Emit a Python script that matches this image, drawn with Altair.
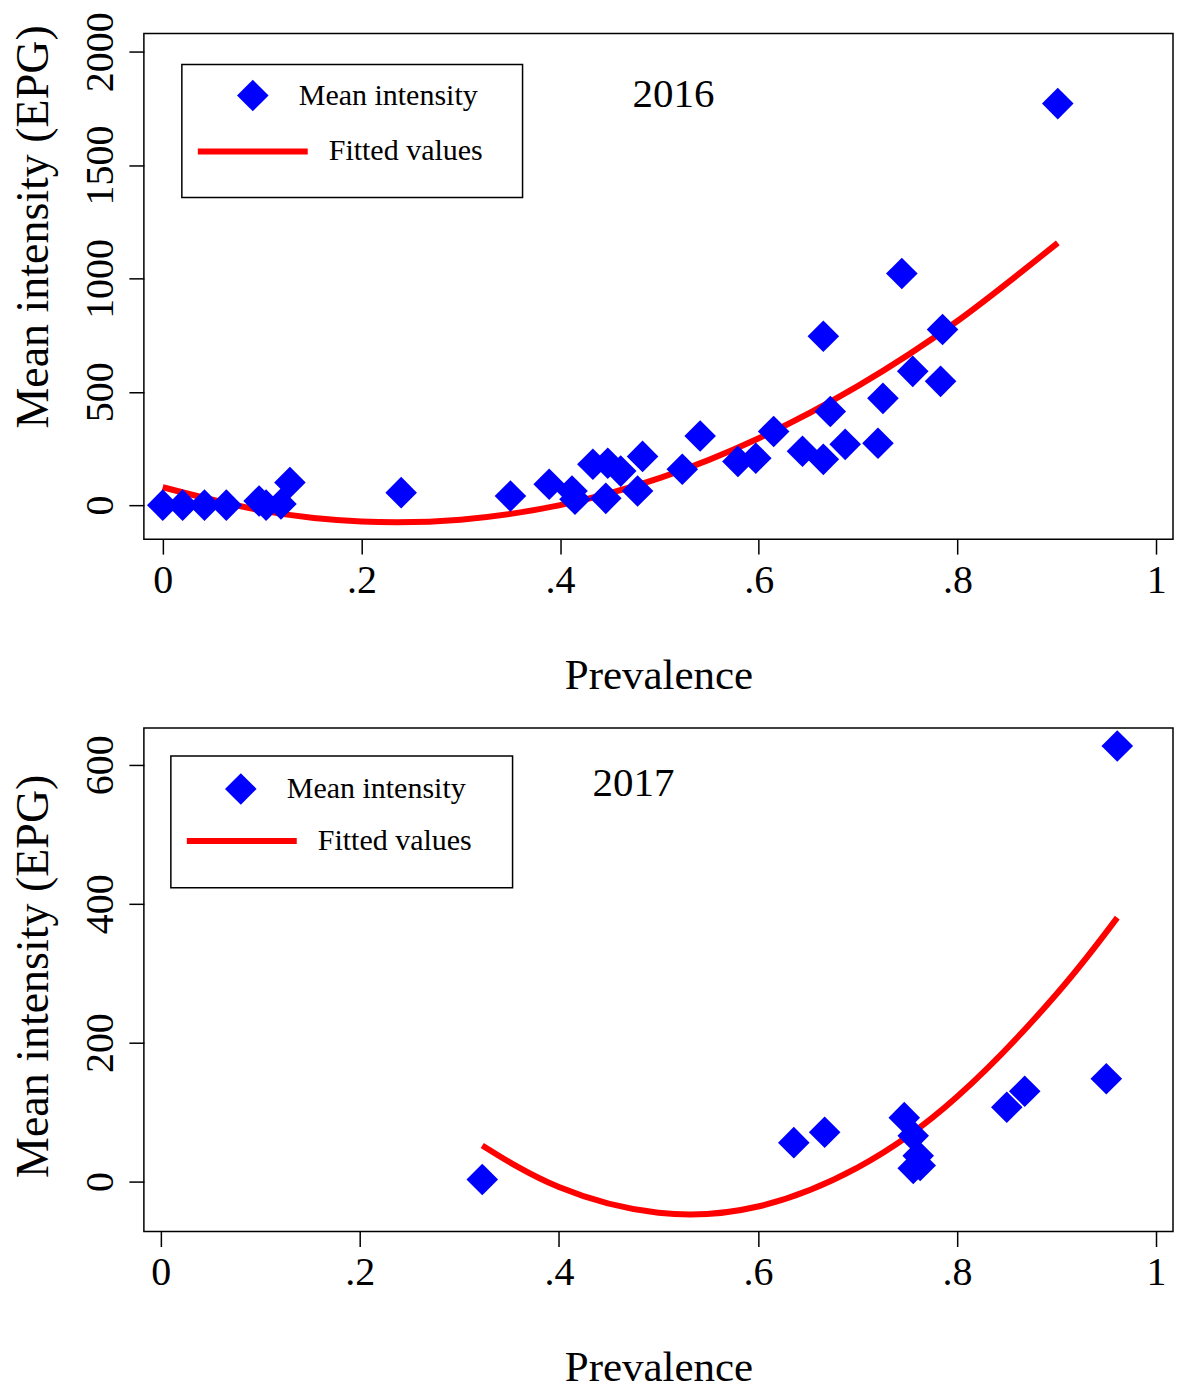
import altair as alt
import pandas as pd

# ---------- 2016 ----------
prev_2016 = [0.0, 0.02, 0.042, 0.064, 0.097, 0.104, 0.119, 0.128, 0.24, 0.35,
             0.389, 0.412, 0.415, 0.433, 0.446, 0.448, 0.461, 0.478, 0.483, 0.523,
             0.541, 0.579, 0.597, 0.615, 0.644, 0.665, 0.672, 0.665, 0.687, 0.72,
             0.725, 0.744, 0.755, 0.785, 0.783, 0.901]
mean_2016 = [0, 0, 0, 0, 18, 0, 5, 100, 55, 40,
             92, 62, 26, 180, 30, 185, 150, 62, 215, 158,
             305, 193, 207, 325, 238, 202, 413, 745, 268, 273,
             471, 1022, 590, 775, 546, 1771]
fit_x_2016 = [0.0, 0.1, 0.2, 0.3, 0.4, 0.5, 0.6, 0.7, 0.8, 0.901]
fit_y_2016 = [79, -24, -72, -64, 0, 119, 295, 526, 812, 1157]

# ---------- 2017 ----------
prev_2017 = [0.323, 0.636, 0.667, 0.747, 0.756, 0.761, 0.756, 0.763, 0.850, 0.868, 0.950, 0.961]
mean_2017 = [3, 56, 71, 92, 66, 37, 19, 23, 107, 130, 148, 627]
fit_x_2017 = [0.323, 0.4, 0.5, 0.6, 0.7, 0.8, 0.9, 0.961]
fit_y_2017 = [52, -8, -45, -36, 20, 122, 270, 380]

point_label = "Mean intensity"
fit_label = "Fitted values"
x_ticks = [0, 0.2, 0.4, 0.6, 0.8, 1]

FONT = "Liberation Serif"
BLUE = "#0000ff"
RED = "#ff0000"
DIAMOND = 1000


def panel(px, py, fx, fy, year, ydomain, yticks, xdomain, pleg, fleg, box, year_xy, title_y, h):
    pts = pd.DataFrame({"Prevalence": px, "Mean": py, "series": point_label})
    fit = pd.DataFrame({"Prevalence": fx, "Mean": fy, "fitted": fit_label})

    common = dict(title=None, orient="none", padding=0, labelFont=FONT, labelFontSize=30,
                  labelLimit=400, labelColor="black")
    xenc = alt.X("Prevalence:Q", scale=alt.Scale(domain=xdomain, nice=False, zero=False),
                 axis=alt.Axis(values=x_ticks, title="Prevalence", titleFontSize=43,
                               labelExpr="datum.value == 0 ? '0' : datum.value == 1 ? '1' : '.' + format(datum.value * 10, 'd')",
                               labelPadding=6, titlePadding=54))
    yenc = alt.Y("Mean:Q", scale=alt.Scale(domain=ydomain, nice=False, zero=False),
                 axis=alt.Axis(values=yticks, format="d", title="Mean intensity (EPG)", labelAngle=270,
                               labelAlign="center", labelBaseline="bottom", labelPadding=8,
                               titleFontSize=46, titlePadding=23, titleY=title_y))

    points = alt.Chart(pts).mark_point(filled=True, shape="diamond", size=DIAMOND, opacity=1).encode(
        x=xenc, y=yenc,
        color=alt.Color("series:N", scale=alt.Scale(domain=[point_label], range=[BLUE]),
                        legend=alt.Legend(legendX=pleg[0], legendY=pleg[1], symbolType="diamond",
                                          symbolSize=DIAMOND, symbolStrokeWidth=0, symbolOpacity=1,
                                          labelOffset=pleg[2], **common)),
    )
    line = alt.Chart(fit).mark_line(strokeWidth=6, interpolate="natural").encode(
        x="Prevalence:Q", y="Mean:Q",
        stroke=alt.Stroke("fitted:N", scale=alt.Scale(domain=[fit_label], range=[RED]),
                          legend=alt.Legend(legendX=fleg[0], legendY=fleg[1], symbolType="stroke",
                                            symbolSize=12100, symbolStrokeWidth=6,
                                            labelOffset=fleg[2], **common)),
    )
    one = pd.DataFrame({"label": [year]})
    frame = alt.Chart(one).mark_rect(fillOpacity=0, stroke="black", strokeWidth=1.5).encode(
        x=alt.value(box[0]), x2=alt.value(box[1]), y=alt.value(box[2]), y2=alt.value(box[3]))
    txt = alt.Chart(one).mark_text(
        font=FONT, fontSize=41, color="black", align="center", baseline="alphabetic"
    ).encode(text="label:N", x=alt.value(year_xy[0]), y=alt.value(year_xy[1]))
    return alt.layer(frame, line, points, txt).properties(width=1030, height=h)


top = panel(prev_2016, mean_2016, fit_x_2016, fit_y_2016, "2016",
            [-150, 2080], [0, 500, 1000, 1500, 2000], [-0.019, 1.017],
            (93, 46, 30), (51, 60, 18), (38, 379, 31, 164), (530, 73), 193, 506)
bottom = panel(prev_2017, mean_2017, fit_x_2017, fit_y_2017, "2017",
               [-72, 653], [0, 200, 400, 600], [-0.017, 1.017],
               (81, 45, 30), (40, 55, 18), (27, 369, 28, 160), (490, 68), 248, 504)

chart = alt.vconcat(top, bottom, spacing=29).resolve_scale(
    color="independent", stroke="independent"
).resolve_legend(
    color="independent", stroke="independent"
).configure(
    padding={"left": 2, "top": 2, "right": 0, "bottom": 0}
).configure_view(
    stroke="black", strokeWidth=1.5
).configure_axis(
    grid=False, domain=False, tickColor="black", tickSize=15, tickWidth=1.5,
    labelFont=FONT, labelFontSize=40, labelColor="black",
    titleFont=FONT, titleColor="black", titleFontWeight="normal",
)

chart.save("out.html", embed_options={"renderer": "svg", "actions": False})
